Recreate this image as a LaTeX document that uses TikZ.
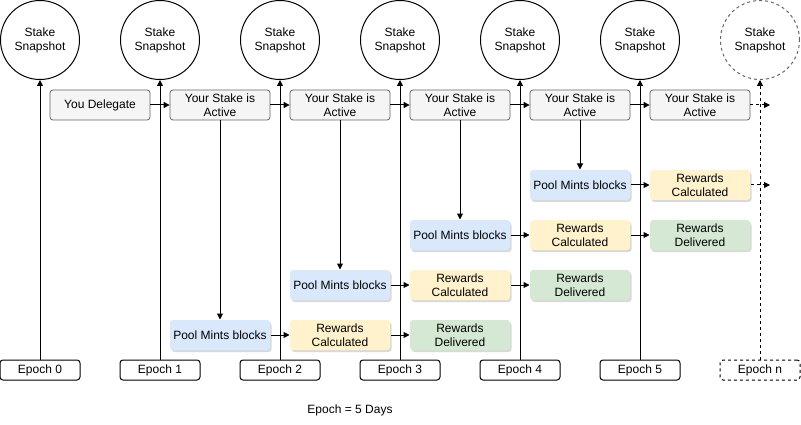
\documentclass[tikz,border=0pt]{standalone}
\usepackage{fontspec}
\setmainfont{Liberation Sans}
\usetikzlibrary{arrows.meta,calc,positioning,shadows}
\definecolor{greyfill}{HTML}{F5F5F5}
\definecolor{greyline}{HTML}{666666}
\definecolor{mintfill}{HTML}{DAE8FC}
\definecolor{calcfill}{HTML}{FFF2CC}
\definecolor{paidfill}{HTML}{D5E8D4}

\begin{document}
\begin{tikzpicture}[x=1pt,y=-1pt,>={Triangle[length=6pt,width=6pt]},line width=1pt,
    font=\fontsize{12pt}{14pt}\selectfont,
    snap/.style={circle,draw,minimum size=79pt,inner sep=0pt,align=center},
    epochbox/.style={draw,rounded corners=3pt,minimum width=80pt,minimum height=20pt,inner sep=0pt},
    stage/.style={draw=greyline,line width=0.8pt,fill=greyfill,rounded corners=3pt,
        minimum width=100pt,minimum height=30pt,inner sep=0pt,align=center},
    shadowbox/.style={rounded corners=3pt,minimum width=100pt,minimum height=30pt,inner sep=0pt,
        align=center,drop shadow={shadow xshift=1.5pt,shadow yshift=-2pt,opacity=0.3}},
    mint/.style={shadowbox,fill=mintfill},
    calc/.style={shadowbox,fill=calcfill},
    paid/.style={shadowbox,fill=paidfill}]
    \useasboundingbox (0,0) rectangle (801,425);

    % epochs and snapshots
    \foreach \i in {0,...,5} {
        \node[snap] (S\i) at (40+120*\i,40) {Stake\\Snapshot};
        \node[epochbox] (E\i) at (40+120*\i,370) {Epoch \i};
        \draw[->] (E\i) -- (S\i);
    }
    \node[snap,dashed,draw=greyline] (Sn) at (760,40) {Stake\\Snapshot};
    \node[epochbox,dashed] (En) at (760,370) {Epoch n};
    \draw[->,dashed] (En) -- (Sn);

    % delegation line
    \node[stage] (D) at (100,105) {You Delegate};
    \foreach \i in {1,...,5}
        \node[stage] (A\i) at (100+120*\i,105) {Your Stake is\\Active};
    \draw[->] (D) -- (A1);
    \foreach \i [count=\j from 2] in {1,...,4}
        \draw[->] (A\i) -- (A\j);
    \coordinate (Aend) at (770,105);
    \draw[->,dashed] (A5) -- (Aend);

    % pool rows
    \foreach \i in {1,...,4} {
        \node[mint] (P\i) at (100+120*\i,385-50*\i) {Pool Mints blocks};
        \node[calc] (C\i) at (220+120*\i,385-50*\i) {Rewards\\Calculated};
        \draw[->] (A\i) -- (P\i);
        \draw[->] (P\i) -- (C\i);
    }
    \foreach \i in {1,...,3} {
        \node[paid] (R\i) at (340+120*\i,385-50*\i) {Rewards\\Delivered};
        \draw[->] (C\i) -- (R\i);
    }
    \coordinate (Cend) at (770,185);
    \draw[->,dashed] (C4) -- (Cend);

    \node (note) at (350,410) {Epoch = 5 Days};
\end{tikzpicture}
\end{document}
